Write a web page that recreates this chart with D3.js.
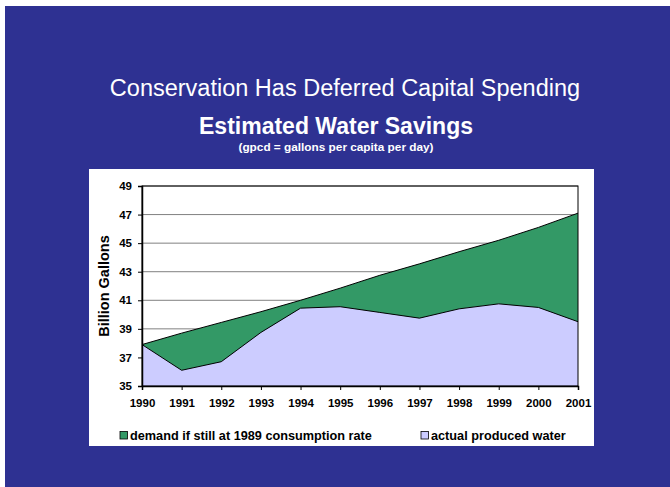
<!DOCTYPE html>
<html>
<head>
<meta charset="utf-8">
<script src="https://cdn.jsdelivr.net/npm/d3@7"></script>
<style>
  html, body { margin: 0; padding: 0; background: #ffffff; }
  svg { display: block; }
  text { font-family: "Liberation Sans", Arial, sans-serif; }
</style>
</head>
<body>
<svg id="chart" width="670" height="487"></svg>
<script>
// Annual water volumes, billion gallons
const years = [1990, 1991, 1992, 1993, 1994, 1995, 1996, 1997, 1998, 1999, 2000, 2001];
const demandAt1989Rate = [37.9, 38.7, 39.45, 40.2, 41.0, 41.85, 42.75, 43.55, 44.4, 45.2, 46.1, 47.1];
const actualProduced = [37.9, 36.1, 36.7, 38.75, 40.45, 40.55, 40.15, 39.75, 40.4, 40.75, 40.5, 39.5];
const yTicks = [35, 37, 39, 41, 43, 45, 47, 49];
const seriesNames = ["demand if still at 1989 consumption rate", "actual produced water"];
const seriesColors = ["#339966", "#ccccff"];

const svg = d3.select("#chart");

// Slide background and chart panel
svg.append("rect").attr("x", 5).attr("y", 6).attr("width", 665).attr("height", 481).attr("fill", "#2e3192");
svg.append("rect").attr("x", 89).attr("y", 169).attr("width", 505).attr("height", 277).attr("fill", "#ffffff");

// Headings
svg.append("text").attr("x", 345).attr("y", 96).attr("text-anchor", "middle")
  .attr("fill", "#ffffff").attr("font-size", 23.5).text("Conservation Has Deferred Capital Spending");
svg.append("text").attr("x", 336).attr("y", 134).attr("text-anchor", "middle")
  .attr("fill", "#ffffff").attr("font-size", 23).attr("font-weight", "bold").text("Estimated Water Savings");
svg.append("text").attr("x", 336).attr("y", 151).attr("text-anchor", "middle")
  .attr("fill", "#ffffff").attr("font-size", 11.8).attr("font-weight", "bold").text("(gpcd = gallons per capita per day)");

// Plot area
const plot = { left: 142, right: 578, top: 186, bottom: 386 };
const x = d3.scalePoint().domain(years).range([plot.left, plot.right]);
const y = d3.scaleLinear().domain([35, 49]).range([plot.bottom, plot.top]);

// Gridlines
svg.append("g").selectAll("line").data(yTicks).join("line")
  .attr("x1", plot.left).attr("x2", plot.right)
  .attr("y1", d => y(d)).attr("y2", d => y(d))
  .attr("stroke", "#808080").attr("stroke-width", 1);

// Overlapping areas from the 35 baseline, demand behind actual
const area = vals => d3.area()
  .x((d, i) => x(years[i]))
  .y0(y(35))
  .y1(d => y(d))(vals);
const line = vals => d3.line()
  .x((d, i) => x(years[i]))
  .y(d => y(d))(vals);

[demandAt1989Rate, actualProduced].forEach((vals, k) => {
  svg.append("path").attr("d", area(vals)).attr("fill", seriesColors[k]);
  svg.append("path").attr("d", line(vals)).attr("fill", "none")
    .attr("stroke", "#000000").attr("stroke-width", 1);
});

// Plot border
svg.append("rect").attr("x", plot.left).attr("y", plot.top)
  .attr("width", plot.right - plot.left).attr("height", plot.bottom - plot.top)
  .attr("fill", "none").attr("stroke", "#000000").attr("stroke-width", 1);

// Axes
const yAxis = svg.append("g").attr("transform", `translate(${plot.left},0)`)
  .call(d3.axisLeft(y).tickValues(yTicks).tickSize(4).tickPadding(6).tickFormat(d3.format("d")));
const xAxis = svg.append("g").attr("transform", `translate(0,${plot.bottom})`)
  .call(d3.axisBottom(x).tickSize(4).tickPadding(9).tickFormat(d3.format("d")));
[yAxis, xAxis].forEach(g => {
  g.select(".domain").attr("stroke", "#000000").attr("stroke-width", 1.5);
  g.selectAll(".tick line").attr("stroke", "#000000");
  g.selectAll(".tick text").attr("fill", "#000000").attr("font-size", 11.5)
    .attr("font-weight", "bold").attr("font-family", "Liberation Sans, Arial, sans-serif");
});

// Y axis title
svg.append("text").attr("transform", "translate(109,286) rotate(-90)")
  .attr("text-anchor", "middle").attr("font-size", 14.5).attr("font-weight", "bold")
  .attr("fill", "#000000").text("Billion Gallons");

// Legend
const legendX = [120, 421];
seriesNames.forEach((name, k) => {
  const g = svg.append("g").attr("transform", `translate(${legendX[k]},440)`);
  g.append("rect").attr("x", 0).attr("y", -8.5).attr("width", 7.5).attr("height", 7.5)
    .attr("fill", seriesColors[k]).attr("stroke", "#000000").attr("stroke-width", 0.8);
  g.append("text").attr("x", 10).attr("y", 0).attr("font-size", 12.7)
    .attr("font-weight", "bold").attr("fill", "#000000").text(name);
});
</script>
</body>
</html>
